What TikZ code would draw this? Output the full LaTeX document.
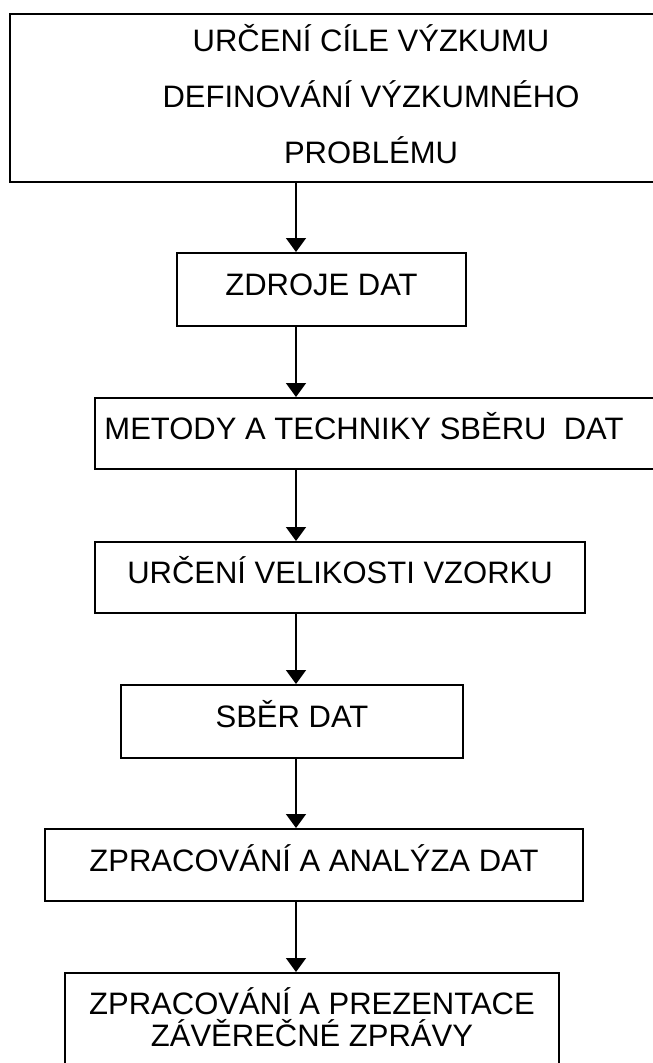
\documentclass[tikz,border=0pt]{standalone}
\usepackage{fontspec}
\setmainfont{Liberation Sans}
\usetikzlibrary{arrows.meta}
\begin{document}
\begin{tikzpicture}[x=1pt,y=-1pt,
  box/.style={draw=black, line width=2pt, inner sep=0pt, align=center,
    font=\fontsize{31}{36}\selectfont, text height=22pt, text depth=10pt},
  txt/.style={inner sep=0pt, align=center,
    font=\fontsize{31}{36}\selectfont, text height=22pt, text depth=10pt},
  arr/.style={line width=1.6pt, -{Triangle[length=14pt,width=20pt]}}]
\useasboundingbox (0,0) rectangle (653,1063);
\fill[white] (0,0) rectangle (653,1063);
\clip (0,0) rectangle (653,1063);
\coordinate (ax) at (296,0);
\node[box, minimum width=722pt, minimum height=168pt,
  font=\fontsize{31}{56}\selectfont, text height=134pt, text depth=4pt]
  (b1) at (371,98) {URČENÍ CÍLE VÝZKUMU\\DEFINOVÁNÍ VÝZKUMNÉHO\\PROBLÉMU};
\node[box, minimum width=289pt, minimum height=73pt] (b2) at (321.5,289.5) {ZDROJE DAT};
\node[box, minimum width=605pt, minimum height=71pt] (b3) at (397.5,433.5) {};
\node[txt] (t3) at (364,433.5) {METODY A TECHNIKY SBĚRU\ \ DAT};
\node[box, minimum width=490pt, minimum height=71pt] (b4) at (340,577.5) {URČENÍ VELIKOSTI VZORKU};
\node[box, minimum width=342pt, minimum height=73pt] (b5) at (292,721.5) {SBĚR DAT};
\node[box, minimum width=538pt, minimum height=72pt] (b6) at (314,865) {ZPRACOVÁNÍ A ANALÝZA DAT};
\node[box, minimum width=494pt, minimum height=100pt,
  font=\fontsize{31}{32}\selectfont, text height=54pt, text depth=8pt]
  (b7) at (312,1023) {ZPRACOVÁNÍ A PREZENTACE\\ZÁVĚREČNÉ ZPRÁVY};
\draw[arr] (b1.south -| ax) -- (b2.north -| ax);
\draw[arr] (b2.south -| ax) -- (b3.north -| ax);
\draw[arr] (b3.south -| ax) -- (b4.north -| ax);
\draw[arr] (b4.south -| ax) -- (b5.north -| ax);
\draw[arr] (b5.south -| ax) -- (b6.north -| ax);
\draw[arr] (b6.south -| ax) -- (b7.north -| ax);
\end{tikzpicture}
\end{document}
